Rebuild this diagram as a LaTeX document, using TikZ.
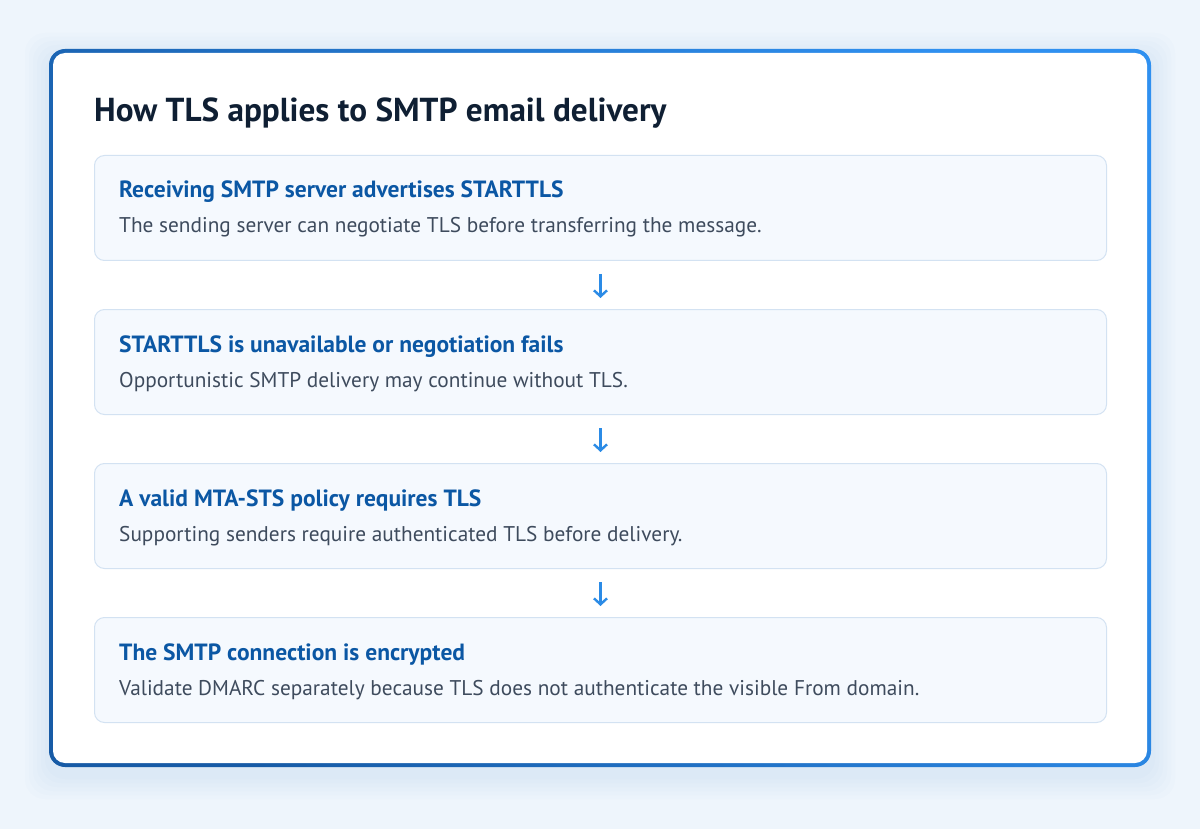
\documentclass[tikz,border=0pt]{standalone}
\usepackage{fontspec}
\setmainfont{PT Sans}
\usetikzlibrary{arrows.meta}
\definecolor{bgc}{HTML}{EEF5FC}
\definecolor{shc}{HTML}{9DBFE4}
\definecolor{frameA}{HTML}{175BA6}
\definecolor{frameB}{HTML}{2F90F0}
\definecolor{titlec}{HTML}{0F1F33}
\definecolor{headc}{HTML}{0B57A4}
\definecolor{bodyc}{HTML}{3E4B5D}
\definecolor{boxfill}{HTML}{F5F9FE}
\definecolor{boxline}{HTML}{D3E2F2}
\definecolor{arrowc}{HTML}{2B8BE6}
\tikzset{
  stepbox/.style={draw=boxline, line width=1pt, fill=boxfill, rounded corners=10pt, anchor=north west, minimum width=1012pt, minimum height=105pt, inner sep=0pt},
  headtxt/.style={anchor=base west, inner sep=0pt, text=headc, font=\fontsize{23.5}{28}\selectfont\bfseries},
  bodytxt/.style={anchor=base west, inner sep=0pt, text=bodyc, font=\fontsize{21.3}{25}\selectfont},
  flow/.style={draw=arrowc, line width=2.4pt, -{Straight Barb[length=6pt,width=13pt]}},
}
\begin{document}
\begin{tikzpicture}[x=1pt,y=-1pt]
\useasboundingbox (0,0) rectangle (1200,829);
\fill[bgc] (0,0) rectangle (1200,829);
% soft shadow
\foreach \d in {4,8,12,16,20,24}
  \fill[shc, opacity=0.035, rounded corners=20pt] (49-\d,49-\d+8) rectangle (1151+\d,767+\d+8);
% frame
\shade[rounded corners=16pt, left color=frameA, right color=frameB, shading angle=120] (49,49) rectangle (1151,767);
\fill[white, rounded corners=12pt] (53,53) rectangle (1147,763);
% title
\node[anchor=base west, inner sep=0pt, text=titlec, font=\fontsize{33.2}{40}\selectfont\bfseries] (title) at (94,122) {How TLS applies to SMTP email delivery};
% boxes
\node[stepbox] (b1) at (94,155) {};
\node[stepbox] (b2) at (94,309) {};
\node[stepbox] (b3) at (94,463) {};
\node[stepbox] (b4) at (94,617) {};
% texts
\node[headtxt] (h1) at (119,198) {Receiving SMTP server advertises STARTTLS};
\node[bodytxt] (t1) at (119,233) {The sending server can negotiate TLS before transferring the message.};
\node[headtxt] (h2) at (119,352) {STARTTLS is unavailable or negotiation fails};
\node[bodytxt] (t2) at (119,387) {Opportunistic SMTP delivery may continue without TLS.};
\node[headtxt] (h3) at (119,506) {A valid MTA-STS policy requires TLS};
\node[bodytxt] (t3) at (119,541) {Supporting senders require authenticated TLS before delivery.};
\node[headtxt] (h4) at (119,660) {The SMTP connection is encrypted};
\node[bodytxt] (t4) at (119,695) {Validate DMARC separately because TLS does not authenticate the visible From domain.};
% arrows
\draw[flow] ([yshift=-13pt]b1.south) -- ([yshift=11pt]b2.north);
\draw[flow] ([yshift=-13pt]b2.south) -- ([yshift=11pt]b3.north);
\draw[flow] ([yshift=-13pt]b3.south) -- ([yshift=11pt]b4.north);
\end{tikzpicture}
\end{document}
